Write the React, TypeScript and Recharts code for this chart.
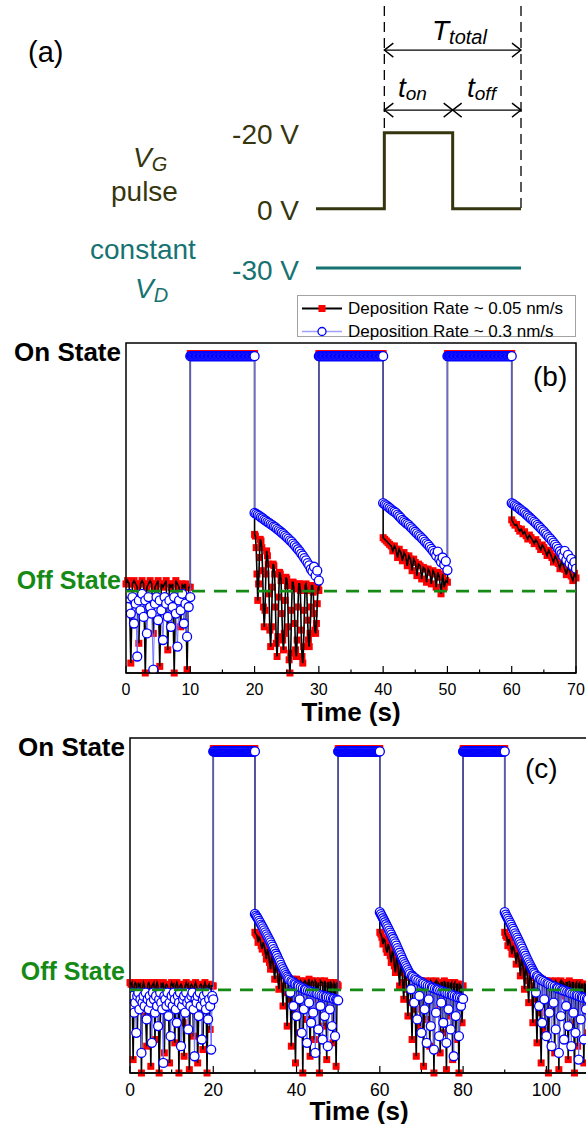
import React from 'react';
import { LineChart, Line, XAxis, YAxis, ReferenceLine, ReferenceArea, Legend } from 'recharts';

const FONT = 'Arial, "Liberation Sans", Helvetica, sans-serif';
const OLIVE = '#36360e';
const TEAL = '#177371';
const GREEN = '#158a15';

// ---------- (a) gate pulse schematic ----------
const pulseTime = [-1, 0, 0, 1, 1, 2];
const pulseVolt = [0, 0, -20, -20, 0, 0];
const drainTime = [-1, 2];
const drainVolt = [-30, -30];

// ---------- (b) / (c) common levels (0 = axis bottom, 100 = frame top) ----------
const offLevel = 24.8;
const stateTicks = [24.8, 96.3];

// on-state plateau (sampled every 0.125 s over a 10 s pulse)
const onRed = [
  96.8, 96.8, 96.8, 96.8, 96.8, 96.8, 96.8, 96.8, 96.8, 96.8,
  96.8, 96.8, 96.8, 96.8, 96.8, 96.8, 96.8, 96.8, 96.8, 96.8,
  96.8, 96.8, 96.8, 96.8, 96.8, 96.8, 96.8, 96.8, 96.8, 96.8,
  96.8, 96.8, 96.8, 96.8, 96.8, 96.8, 96.8, 96.8, 96.8, 96.8,
  96.8, 96.8, 96.8, 96.8, 96.8, 96.8, 96.8, 96.8, 96.8, 96.8,
  96.8, 96.8, 96.8, 96.8, 96.8, 96.8, 96.8, 96.8, 96.8, 96.8,
  96.8, 96.8, 96.8, 96.8, 96.8, 96.8, 96.8, 96.8, 96.8, 96.8,
  96.8, 96.8, 96.8, 96.8, 96.8, 96.8, 96.8, 96.8, 96.8, 96.8, 96.8,
];
const onBlue = [
  96.0, 96.0, 96.0, 96.0, 96.0, 96.0, 96.0, 96.0, 96.0, 96.0,
  96.0, 96.0, 96.0, 96.0, 96.0, 96.0, 96.0, 96.0, 96.0, 96.0,
  96.0, 96.0, 96.0, 96.0, 96.0, 96.0, 96.0, 96.0, 96.0, 96.0,
  96.0, 96.0, 96.0, 96.0, 96.0, 96.0, 96.0, 96.0, 96.0, 96.0,
  96.0, 96.0, 96.0, 96.0, 96.0, 96.0, 96.0, 96.0, 96.0, 96.0,
  96.0, 96.0, 96.0, 96.0, 96.0, 96.0, 96.0, 96.0, 96.0, 96.0,
  96.0, 96.0, 96.0, 96.0, 96.0, 96.0, 96.0, 96.0, 96.0, 96.0,
  96.0, 96.0, 96.0, 96.0, 96.0, 96.0, 96.0, 96.0, 96.0, 96.0, 96.0,
];

// ---------- (b) period 20 s ----------
const bSegments = [[0, 10], [10, 20], [20, 30], [30, 40], [40, 50], [50, 60], [60, 70]];
const bTicks = [0, 5, 10, 15, 20, 25, 30, 35, 40, 45, 50, 55, 60, 65, 70];

const bRedOff1 = [27, 28, 27, 3, 27, 28, 27, 26, 9, 27, 28, 27, 0, 26, 27, 28, 27, 12, 26, 27, 28, 2, 27, 26, 27, 28, 7, 27, 26, 27, 0, 28, 27, 26, 14, 27, 26, 27, 1, 26, 26];
const bRedOff2 = [
  42, 41.5, 38, 30, 22, 27, 35, 40.5,
  40, 38, 31, 20, 14, 19, 30, 37,
  35.5, 33, 24, 13, 8, 14, 26, 33,
  32.5, 30, 20, 9, 5, 11, 23, 30.5,
  30, 28, 18, 10, 7, 12, 22, 29,
  28.5, 26.5, 14, 4, 0, 6, 19, 27.5,
  27.5, 25.5, 15, 7, 5, 10, 20, 27,
  27, 25, 13, 5, 3, 8, 19, 26.5,
  27, 25, 16, 10, 8, 12, 20, 26.5,
  26.5, 24.5, 18, 13, 12, 15, 21, 26,
  25,
];
const bRedOff3 = [41, 40.5, 40, 39.5, 39, 38.5, 37, 38.5, 37.5, 35, 37.5, 36.5, 34, 36.5, 35.5, 32.5, 35.5, 34.5, 31, 34.5, 33.5, 29.5, 33, 32.5, 28.5, 32, 31.5, 27.5, 31.5, 30.5, 27, 31, 30, 26, 30.5, 29, 24, 30, 26, 28, 27.5];
const bRedOff4 = [46.4, 45.5, 44.8, 45, 43.8, 43, 43.6, 42.2, 42.8, 41.6, 40.6, 41.8, 41, 40.2, 39.2, 40.4, 39.6, 38.4, 37.4, 38.8, 38, 36.8, 35.6, 37.2, 36.2, 35, 33.6, 35.4, 34.6, 33.2, 31.6, 33.8, 32.8, 31.4, 29.8, 32.2, 31, 29.4, 28, 30.2, 28.8];

const bBlueOff1 = [22, 20, 24, 18, 23, 15, 21, 5, 22, 19, 24, 17, 22, 12, 23, 20, 18, 1, 21, 23, 16, 22, 19, 10, 23, 21, 17, 22, 14, 20, 23, 18, 8, 22, 19, 24, 15, 21, 11, 20, 23];
const bBlueOff2 = [48.5, 48.2, 47.9, 47.6, 47.2, 46.9, 46.5, 46.2, 45.8, 45.5, 45.1, 44.8, 44.4, 44.1, 43.7, 43.3, 42.9, 42.5, 42.1, 41.6, 41.2, 40.7, 40.2, 39.8, 39.2, 38.7, 38.1, 37.5, 36.9, 36.2, 35.6, 34.8, 34.1, 33.3, 32.6, 31.5, 30.8, 32.2, 29.5, 31.0, 28.0];
const bBlueOff3 = [51.5, 51.1, 50.8, 50.4, 50, 49.6, 49.2, 48.9, 48.5, 48, 47.5, 47, 46.4, 46, 45.6, 45.2, 44.8, 44.3, 43.8, 43.3, 42.8, 42.3, 41.8, 41.4, 40.9, 40.4, 39.8, 39.3, 38.8, 38.2, 37.6, 37, 36.4, 35.6, 36.8, 34.5, 33.6, 35.0, 32.8, 33.9, 31.2];
const bBlueOff4 = [51.5, 51.2, 50.8, 50.5, 50.1, 49.7, 49.3, 49, 48.6, 48.1, 47.7, 47.2, 46.8, 46.3, 45.9, 45.4, 44.9, 44.4, 43.9, 43.4, 42.9, 42.3, 41.8, 41.2, 40.7, 40.1, 39.5, 38.9, 38.3, 37.6, 36.9, 36.2, 35.4, 37.0, 34.3, 35.8, 33.2, 34.6, 32.4, 33.6, 31.6];

// ---------- (c) period 30 s (off segments sampled every 0.25 s) ----------
const cSegments = [[0, 20], [20, 30], [30, 50], [50, 60], [60, 80], [80, 90], [90, 110]];
const cTicks = [0, 10, 20, 30, 40, 50, 60, 70, 80, 90, 100];

const cRedOff1 = [
  27, 26.5, 27, 4, 26, 27, 26.5, 12, 27, 26, 26.5, 0, 25.5, 27, 26, 17, 8, 26.5, 27, 26,
  2, 26, 26.5, 27, 10, 26, 27, 26, 0, 14, 26.5, 26, 27, 6, 26, 26.5, 26, 20, 3, 26,
  27, 26, 26.5, 9, 26, 27, 26, 0, 26, 26.5, 26, 15, 5, 26, 27, 26, 26.5, 1, 26, 26.5,
  26, 11, 26, 27, 26, 3, 18, 26, 26.5, 26, 7, 26, 27, 26, 0, 26, 26.5, 13, 26, 26, 26,
];
const cRedOff2 = [
  42, 41.5, 41, 39, 40.5, 40, 38, 37,
  39, 38, 36, 34, 37, 36, 33, 31,
  35, 34, 31, 28, 33, 32, 28, 25,
  31, 30, 26, 20, 29.5, 29, 24, 14,
  28.5, 28, 22, 8, 28, 27.5, 18, 3,
  28, 27.5, 27, 12, 27.5, 27, 0, 27,
  27.5, 27, 16, 27, 28, 5, 27, 27.5,
  27, 10, 27.5, 27, 22, 27, 0, 27.5,
  27, 27, 14, 27.5, 26.5, 4, 27, 27,
  20, 27, 26.5, 9, 27, 26.5, 2, 26.5,
  26,
];
const cRedOff3 = [
  42, 41.5, 40.5, 38.5, 40, 39.5, 37, 36,
  38.5, 37.5, 35, 33, 36.5, 35.5, 32, 30,
  34.5, 33.5, 30, 26, 32.5, 31.5, 27, 22,
  30.5, 29.5, 25, 17, 29, 28.5, 21, 10,
  28.5, 28, 19, 5, 28, 27.5, 27, 14,
  27.5, 27, 2, 27, 27.5, 16, 27, 27,
  8, 27.5, 27, 26.5, 0, 27, 27.5, 20,
  27, 26.5, 6, 27, 27, 12, 27.5, 26.5,
  1, 27, 27, 17, 26.5, 27, 4, 26.5,
  27, 10, 26.5, 26.5, 0, 26.5, 26, 15,
  26,
];
const cRedOff4 = [
  42, 41, 40.5, 38, 40, 39, 37.5, 35.5,
  38, 37, 35.5, 32.5, 36, 35, 33, 29,
  34, 33, 30.5, 25, 32, 31, 27.5, 21,
  30, 29.5, 26, 15, 29, 28.5, 22, 9,
  28.5, 28, 18, 3, 28, 27.5, 27, 13,
  27.5, 27, 0, 27, 27.5, 19, 27, 27,
  6, 27.5, 27, 26.5, 1, 27, 27.5, 23,
  27, 26.5, 10, 27, 27, 4, 27.5, 26.5,
  15, 27, 27, 0, 26.5, 27, 8, 26.5,
  27, 20, 26.5, 26.5, 3, 26.5, 26, 12,
  26,
];

const cBlueOff1 = [
  22, 20, 24, 23, 18, 21, 12, 23, 24, 19, 22, 6, 21, 23, 20, 24, 16, 22, 19, 23,
  21, 9, 24, 22, 18, 23, 20, 14, 22, 24, 21, 19, 3, 23, 22, 20, 24, 17, 21, 11,
  23, 20, 24, 22, 19, 15, 23, 21, 24, 8, 20, 22, 23, 18, 24, 21, 13, 22, 20, 23,
  24, 19, 5, 22, 21, 23, 17, 24, 20, 10, 22, 23, 21, 19, 24, 16, 22, 20, 7, 23, 22,
];
const cBlueOff2 = [
  47.5, 47, 46.5, 46, 45.4, 44.9, 44.3, 43.8,
  43.2, 42.6, 42, 41.4, 40.8, 40.2, 39.6, 39,
  38.3, 37.7, 37, 36.3, 35.6, 35, 34.3, 33.6,
  33, 32.3, 31.6, 31, 30.4, 29.8, 29.3, 28.8,
  28.3, 27.9, 24, 27.5, 27.1, 20, 26.8, 26.5,
  17, 26.2, 25.9, 22, 25.6, 12, 25.3, 19,
  25, 24.8, 9, 24.6, 21, 24.4, 15, 24.2,
  18, 24, 6, 23.8, 23.6, 13, 23.4, 20,
  23.2, 10, 23, 17, 22.9, 22.7, 8, 22.6,
  19, 22.4, 14, 22.3, 22.1, 11, 22, 21.8,
  21.7,
];
const cBlueOff3 = [
  48, 47.4, 46.8, 46.2, 45.6, 45, 44.4, 43.8,
  43.2, 42.5, 41.9, 41.3, 40.6, 40, 39.3, 38.7,
  38, 37.3, 36.6, 35.9, 35.2, 34.5, 33.8, 33.1,
  32.5, 31.9, 31.3, 30.7, 30.1, 29.6, 25, 29.1,
  28.7, 21, 28.3, 27.9, 16, 27.6, 23, 27.3,
  12, 27, 26.7, 19, 26.4, 9, 26.1, 22,
  25.9, 14, 25.6, 25.4, 7, 25.2, 18, 25,
  24.8, 11, 24.6, 21, 24.4, 15, 24.2, 24,
  9, 23.8, 19, 23.6, 13, 23.4, 23.2, 5,
  23, 17, 22.8, 22.6, 11, 22.5, 20, 22.3,
  22.1,
];
const cBlueOff4 = [
  48, 47.3, 46.7, 46.1, 45.5, 44.9, 44.3, 43.6,
  43, 42.4, 41.7, 41.1, 40.4, 39.8, 39.1, 38.5,
  37.8, 37.1, 36.4, 35.7, 35, 34.3, 33.7, 33,
  32.4, 31.8, 31.2, 30.6, 30, 29.5, 24, 29,
  28.6, 20, 28.2, 27.8, 15, 27.5, 22, 27.2,
  11, 26.9, 26.6, 18, 26.3, 8, 26, 21,
  25.8, 13, 25.5, 25.3, 6, 25.1, 17, 24.9,
  24.7, 10, 24.5, 20, 24.3, 14, 24.1, 23.9,
  8, 23.7, 18, 23.5, 12, 23.3, 23.1, 4,
  22.9, 16, 22.7, 22.5, 10, 22.4, 19, 22.2,
  22,
];

const legendNames = ['Deposition Rate ~ 0.05 nm/s', 'Deposition Rate ~ 0.3 nm/s'];

// spread each segment's samples evenly over its time window
const buildSeries = (segments: number[][], parts: number[][]) => {
  const out: { t: number; v: number }[] = [];
  parts.forEach((vals, k) => {
    const [a, b] = segments[k];
    vals.forEach((v, i) => out.push({ t: a + ((b - a) * i) / (vals.length - 1), v }));
  });
  return out;
};

const bRed = buildSeries(bSegments, [bRedOff1, onRed, bRedOff2, onRed, bRedOff3, onRed, bRedOff4]);
const bBlue = buildSeries(bSegments, [bBlueOff1, onBlue, bBlueOff2, onBlue, bBlueOff3, onBlue, bBlueOff4]);
const cRed = buildSeries(cSegments, [cRedOff1, onRed, cRedOff2, onRed, cRedOff3, onRed, cRedOff4]);
const cBlue = buildSeries(cSegments, [cBlueOff1, onBlue, cBlueOff2, onBlue, cBlueOff3, onBlue, cBlueOff4]);

const pulseData = pulseTime.map((t, i) => ({ t, v: pulseVolt[i] }));
const drainData = drainTime.map((t, i) => ({ t, v: drainVolt[i] }));

const layer: React.CSSProperties = { position: 'absolute', left: 0, top: 0 };
const blueDot = { r: 4.5, fill: '#fff', stroke: '#0000ff', strokeWidth: 1.3 };

const RedSquare: React.FC<any> = ({ cx, cy, index }) => {
  if (cx == null || cy == null) return null;
  return <rect key={`sq-${index}`} x={cx - 3.5} y={cy - 3.5} width={7} height={7} fill="#ff0000" />;
};

const DoubleArrow: React.FC<any> = ({ x1, y1, x2, y2 }) => {
  const h = 9;
  const w = 7;
  return (
    <g stroke="#000" strokeWidth={1.4} fill="none">
      <line x1={x1} y1={y1} x2={x2} y2={y2} />
      <path d={`M${x1 + h},${y1 - w} L${x1},${y1} L${x1 + h},${y1 + w}`} />
      <path d={`M${x2 - h},${y2 - w} L${x2},${y2} L${x2 - h},${y2 + w}`} />
    </g>
  );
};

const TimeTick: React.FC<any> = ({ x, y, payload, major, fontSize }) => {
  const isMajor = payload.value % major === 0;
  return (
    <g>
      <line x1={x} x2={x} y1={y} y2={y - (isMajor ? 7 : 3.5)} stroke="#000" strokeWidth={1.2} />
      {isMajor && (
        <text x={x} y={y + 16.5} dy="0.355em" textAnchor="middle" fontFamily={FONT} fontSize={fontSize} fill="#000">
          {payload.value}
        </text>
      )}
    </g>
  );
};

const StateTick: React.FC<any> = ({ x, y, payload, shiftOn, shiftOff }) => {
  const on = payload.value > 50;
  return (
    <text
      x={x - 5}
      y={y + (on ? shiftOn : shiftOff)}
      dy="0.355em"
      textAnchor="end"
      fontFamily={FONT}
      fontWeight="bold"
      fontSize={on ? 26 : 25}
      fill={on ? '#000' : GREEN}
    >
      {on ? 'On State' : 'Off State'}
    </text>
  );
};

const DepositionLegend: React.FC<any> = () => (
  <div style={{ paddingBottom: 6 }}>
    <div
      style={{
        position: 'relative',
        width: 277,
        height: 40,
        border: '1px solid #a3a3a3',
        background: '#fff',
        fontFamily: FONT,
        fontSize: 17,
        color: '#000',
      }}
    >
      {legendNames.map((name, i) => (
        <div
          key={name}
          style={{ position: 'absolute', left: 0, top: i === 0 ? 1.5 : 24.5, height: 21, display: 'flex', alignItems: 'center', whiteSpace: 'nowrap' }}
        >
          <svg width={50} height={21}>
            {i === 0 ? (
              <>
                <line x1={4} x2={44} y1={10.5} y2={10.5} stroke="#000" strokeWidth={2} />
                <rect x={20.5} y={7} width={7} height={7} fill="#ff0000" />
              </>
            ) : (
              <>
                <line x1={4} x2={44} y1={10.5} y2={10.5} stroke="#a0a0ff" strokeWidth={1.5} />
                <circle cx={24} cy={10.5} r={4} fill="#fff" stroke="#0000ff" strokeWidth={1.3} />
              </>
            )}
          </svg>
          <span style={{ lineHeight: '21px' }}>{name}</span>
        </div>
      ))}
    </div>
  </div>
);

const PanelA = () => (
  <LineChart width={586} height={290} margin={{ top: 0, right: 65, bottom: 0, left: 316 }}>
    <XAxis hide type="number" dataKey="t" domain={[-1, 2]} allowDataOverflow />
    <YAxis hide yAxisId="vg" type="number" domain={[-55, 21.4]} reversed allowDataOverflow />
    <YAxis hide yAxisId="vd" type="number" domain={[-100.6, -24.2]} reversed allowDataOverflow />
    <ReferenceLine yAxisId="vg" segment={[{ x: 0, y: -53.4 }, { x: 0, y: 0 }]} stroke="#000" strokeWidth={1.3} strokeDasharray="10 6" />
    <ReferenceLine yAxisId="vg" segment={[{ x: 2, y: -53.4 }, { x: 2, y: 0 }]} stroke="#000" strokeWidth={1.3} strokeDasharray="10 6" />
    <ReferenceLine yAxisId="vg" segment={[{ x: 0, y: -41.8 }, { x: 2, y: -41.8 }]} shape={(p: any) => <DoubleArrow {...p} />} />
    <ReferenceLine yAxisId="vg" segment={[{ x: 0, y: -26 }, { x: 1, y: -26 }]} shape={(p: any) => <DoubleArrow {...p} />} />
    <ReferenceLine yAxisId="vg" segment={[{ x: 1, y: -26 }, { x: 2, y: -26 }]} shape={(p: any) => <DoubleArrow {...p} />} />
    <Line yAxisId="vg" data={pulseData} dataKey="v" type="linear" stroke={OLIVE} strokeWidth={3} strokeLinejoin="miter" dot={false} isAnimationActive={false} />
    <Line yAxisId="vd" data={drainData} dataKey="v" type="linear" stroke={TEAL} strokeWidth={3} dot={false} isAnimationActive={false} />
  </LineChart>
);

// each series sits in its own stacked chart so the drawing order is fixed:
// red squares, black trace, blue circles, dashed off-state line + frame
type PanelProps = {
  width: number;
  height: number;
  plot: { top: number; right: number; bottom: number; left: number };
  xMax: number;
  ticks: number[];
  major: number;
  tickFont: number;
  titleOffset: number;
  shiftOn: number;
  shiftOff: number;
  red: { t: number; v: number }[];
  blue: { t: number; v: number }[];
  withLegend?: boolean;
};

const TransferPanel: React.FC<PanelProps> = (p) => {
  const { width, height, plot, xMax } = p;
  const hiddenAxes = [
    <XAxis key="x" hide type="number" dataKey="t" domain={[0, xMax]} allowDataOverflow />,
    <YAxis key="y" hide type="number" domain={[0, 100]} allowDataOverflow />,
  ];
  return (
    <div style={{ position: 'relative', width, height }}>
      <div style={layer}>
        <LineChart
          width={width}
          height={height}
          margin={{ top: p.withLegend ? plot.top - 48 : plot.top, right: plot.right, bottom: 0, left: 0 }}
        >
          {p.withLegend && (
            <Legend
              verticalAlign="top"
              align="right"
              content={<DepositionLegend />}
              wrapperStyle={{ top: plot.top - 48, right: plot.right, width: 279 }}
            />
          )}
          <XAxis
            type="number"
            dataKey="t"
            domain={[0, xMax]}
            ticks={p.ticks}
            interval={0}
            tick={<TimeTick major={p.major} fontSize={p.tickFont} />}
            tickLine={false}
            tickSize={0}
            tickMargin={0}
            axisLine={{ stroke: '#000', strokeWidth: 1.6 }}
            height={plot.bottom}
            label={{ value: 'Time (s)', position: 'insideBottom', offset: p.titleOffset, fill: '#000', fontSize: 26, fontWeight: 'bold', fontFamily: FONT }}
          />
          <YAxis
            type="number"
            domain={[0, 100]}
            ticks={stateTicks}
            interval={0}
            width={plot.left}
            axisLine={false}
            tickLine={false}
            tickSize={0}
            tickMargin={0}
            tick={<StateTick shiftOn={p.shiftOn} shiftOff={p.shiftOff} />}
          />
          <Line data={p.red} dataKey="v" stroke="none" dot={<RedSquare />} isAnimationActive={false} legendType="none" />
        </LineChart>
      </div>
      <div style={layer}>
        <LineChart width={width} height={height} margin={plot}>
          {hiddenAxes}
          <Line data={p.red} dataKey="v" stroke="#000" strokeWidth={1.6} dot={false} isAnimationActive={false} />
        </LineChart>
      </div>
      <div style={layer}>
        <LineChart width={width} height={height} margin={plot}>
          {hiddenAxes}
          <Line data={p.blue} dataKey="v" stroke="#7070ff" strokeWidth={1} dot={blueDot} isAnimationActive={false} />
        </LineChart>
      </div>
      <div style={layer}>
        <LineChart width={width} height={height} margin={plot}>
          {hiddenAxes}
          <ReferenceLine y={offLevel} stroke={GREEN} strokeWidth={2.6} strokeDasharray="13 9" />
          <ReferenceArea x1={0} x2={xMax} y1={0} y2={100} fill="none" stroke="#000" strokeWidth={1.5} />
        </LineChart>
      </div>
    </div>
  );
};

const App: React.FC = () => {
  return (
    <div style={{ position: 'relative', width: 586, height: 1124, overflow: 'hidden', background: '#fff', fontFamily: FONT }}>
      <style>{'body{margin:0}'}</style>
      <div style={{ position: 'absolute', left: 0, top: 0 }}>
        <PanelA />
      </div>
      <div style={{ position: 'absolute', left: 0, top: 290 }}>
        <TransferPanel
          width={586}
          height={440}
          plot={{ top: 53, right: 10, bottom: 57, left: 126 }}
          xMax={70}
          ticks={bTicks}
          major={10}
          tickFont={16}
          titleOffset={9}
          shiftOn={-3}
          shiftOff={-11}
          red={bRed}
          blue={bBlue}
          withLegend
        />
      </div>
      <div style={{ position: 'absolute', left: 0, top: 720 }}>
        <TransferPanel
          width={600}
          height={404}
          plot={{ top: 18, right: 12, bottom: 51, left: 130 }}
          xMax={110}
          ticks={cTicks}
          major={20}
          tickFont={17.5}
          titleOffset={4}
          shiftOn={-4}
          shiftOff={-19}
          red={cRed}
          blue={cBlue}
        />
      </div>
      <svg
        width={586}
        height={1124}
        style={{ position: 'absolute', left: 0, top: 0, pointerEvents: 'none' }}
        fontFamily={FONT}
      >
        <text x={28} y={62} fontSize={29} fill="#000">(a)</text>
        <text x={432} y={40} fontSize={28} fontStyle="italic" fill="#000">
          T<tspan fontSize={20} dy={4}>total</tspan>
        </text>
        <text x={398} y={97} fontSize={28} fontStyle="italic" fill="#000">
          t<tspan fontSize={19} dy={3}>on</tspan>
        </text>
        <text x={467} y={97} fontSize={28} fontStyle="italic" fill="#000">
          t<tspan fontSize={19} dy={3}>off</tspan>
        </text>
        <text x={299} y={144} fontSize={28} textAnchor="end" fill={OLIVE}>-20 V</text>
        <text x={133} y={167} fontSize={28} fontStyle="italic" fill={OLIVE}>
          V<tspan fontSize={20} dy={4}>G</tspan>
        </text>
        <text x={111} y={201} fontSize={28} fill={OLIVE}>pulse</text>
        <text x={299} y={220} fontSize={28} textAnchor="end" fill={OLIVE}>0 V</text>
        <text x={90} y={259} fontSize={28} fill={TEAL}>constant</text>
        <text x={299} y={280} fontSize={28} textAnchor="end" fill={TEAL}>-30 V</text>
        <text x={135} y={298} fontSize={28} fontStyle="italic" fill={TEAL}>
          V<tspan fontSize={20} dy={4}>D</tspan>
        </text>
        <text x={533} y={386} fontSize={28} fill="#000">(b)</text>
        <text x={525} y={778} fontSize={28} fill="#000">(c)</text>
      </svg>
    </div>
  );
};

export default App;
